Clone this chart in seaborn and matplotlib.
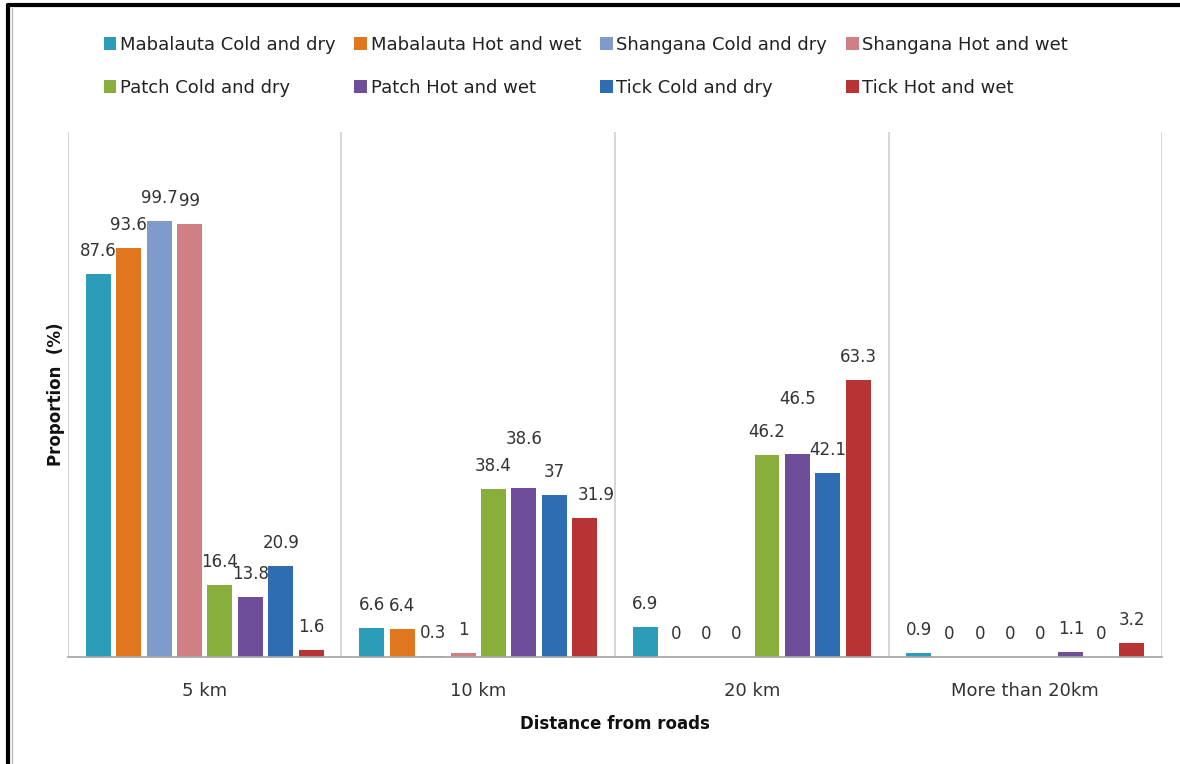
import matplotlib
matplotlib.use("Agg")
import matplotlib.pyplot as plt
import pandas as pd
import seaborn as sns
from matplotlib.lines import Line2D

distances = ["5 km", "10 km", "20 km", "More than 20km"]
series = [
    "Mabalauta Cold and dry",
    "Mabalauta Hot and wet",
    "Shangana Cold and dry",
    "Shangana Hot and wet",
    "Patch Cold and dry",
    "Patch Hot and wet",
    "Tick Cold and dry",
    "Tick Hot and wet",
]
# one list per series, values for 5 km, 10 km, 20 km, >20 km
mabalauta_cold = [87.6, 6.6, 6.9, 0.9]
mabalauta_hot = [93.6, 6.4, 0, 0]
shangana_cold = [99.7, 0.3, 0, 0]
shangana_hot = [99, 1, 0, 0]
patch_cold = [16.4, 38.4, 46.2, 0]
patch_hot = [13.8, 38.6, 46.5, 1.1]
tick_cold = [20.9, 37, 42.1, 0]
tick_hot = [1.6, 31.9, 63.3, 3.2]

colors = ["#2B9DB8", "#E0771E", "#7F9BCB", "#D08084",
          "#88AE3C", "#6E4E98", "#2F6DB3", "#B83333"]

values = [mabalauta_cold, mabalauta_hot, shangana_cold, shangana_hot,
          patch_cold, patch_hot, tick_cold, tick_hot]
rows = []
for name, vals in zip(series, values):
    for dist, v in zip(distances, vals):
        rows.append({"distance": dist, "series": name, "proportion": v})
df = pd.DataFrame(rows)

sns.set_theme(style="white")
plt.rcParams["font.family"] = ["DejaVu Sans"]

fig = plt.figure(figsize=(11.8, 7.64), dpi=100)
ax = fig.add_axes([0.0576, 0.14, 0.9272, 0.687])

sns.barplot(data=df, x="distance", y="proportion", hue="series",
            order=distances, hue_order=series, palette=colors,
            width=0.89, gap=0.18, linewidth=0, saturation=1, ax=ax)

ax.set_xlim(-0.5, 3.5)
ax.set_ylim(0, 120)
ax.set_yticks([])
for s in ["top", "right", "left"]:
    ax.spines[s].set_visible(False)
ax.spines["bottom"].set_color("#A6A6A6")
ax.tick_params(axis="x", length=0, labelsize=13, pad=18, labelcolor="#333333")
for b in [-0.5, 0.5, 1.5, 2.5, 3.5]:
    ax.axvline(b, color="#D0D0D0", lw=1.2, zorder=0)

ax.set_xlabel("Distance from roads", fontsize=12, fontweight="bold", labelpad=11,
              color="#111111")
ax.set_ylabel("Proportion  (%)", fontsize=12, fontweight="bold", labelpad=2,
              color="#111111")

# label nudges (points) where labels were moved to avoid overlap
nudges = {(1, 5): (0, 19), (2, 5): (0, 23), (1, 7): (8, 0)}
for si, cont in enumerate(ax.containers):
    for di, bar in enumerate(cont):
        v = values[si][di]
        dx, dy = nudges.get((di, si), (0, 0))
        ax.annotate(f"{v:g}", (bar.get_x() + bar.get_width() / 2, bar.get_height()),
                    xytext=(dx, 16.5 + dy), textcoords="offset points",
                    ha="center", va="center", fontsize=12, color="#333333")

handles, labels = ax.get_legend_handles_labels()
ax.get_legend().remove()
order = [0, 4, 1, 5, 2, 6, 3, 7]
leg = fig.legend([handles[i] for i in order], [labels[i] for i in order],
                 loc="center left", bbox_to_anchor=(0.074, 0.913), ncol=4,
                 frameon=False, fontsize=13, handlelength=0.7, handleheight=0.7,
                 handletextpad=0.2, columnspacing=1.05, labelspacing=1.4)
for t in leg.get_texts():
    t.set_color("#222222")

# outer frame (top and left edges)
fig.add_artist(Line2D([0.0064, 0.0064], [0, 0.994], transform=fig.transFigure,
                      color="black", lw=3))
fig.add_artist(Line2D([0.0064, 1], [0.994, 0.994], transform=fig.transFigure,
                      color="black", lw=3))
fig.add_artist(Line2D([0.0098, 0.0098], [0, 0.99], transform=fig.transFigure,
                      color="#BBBBBB", lw=1))

fig.savefig("out.png", dpi=100)
